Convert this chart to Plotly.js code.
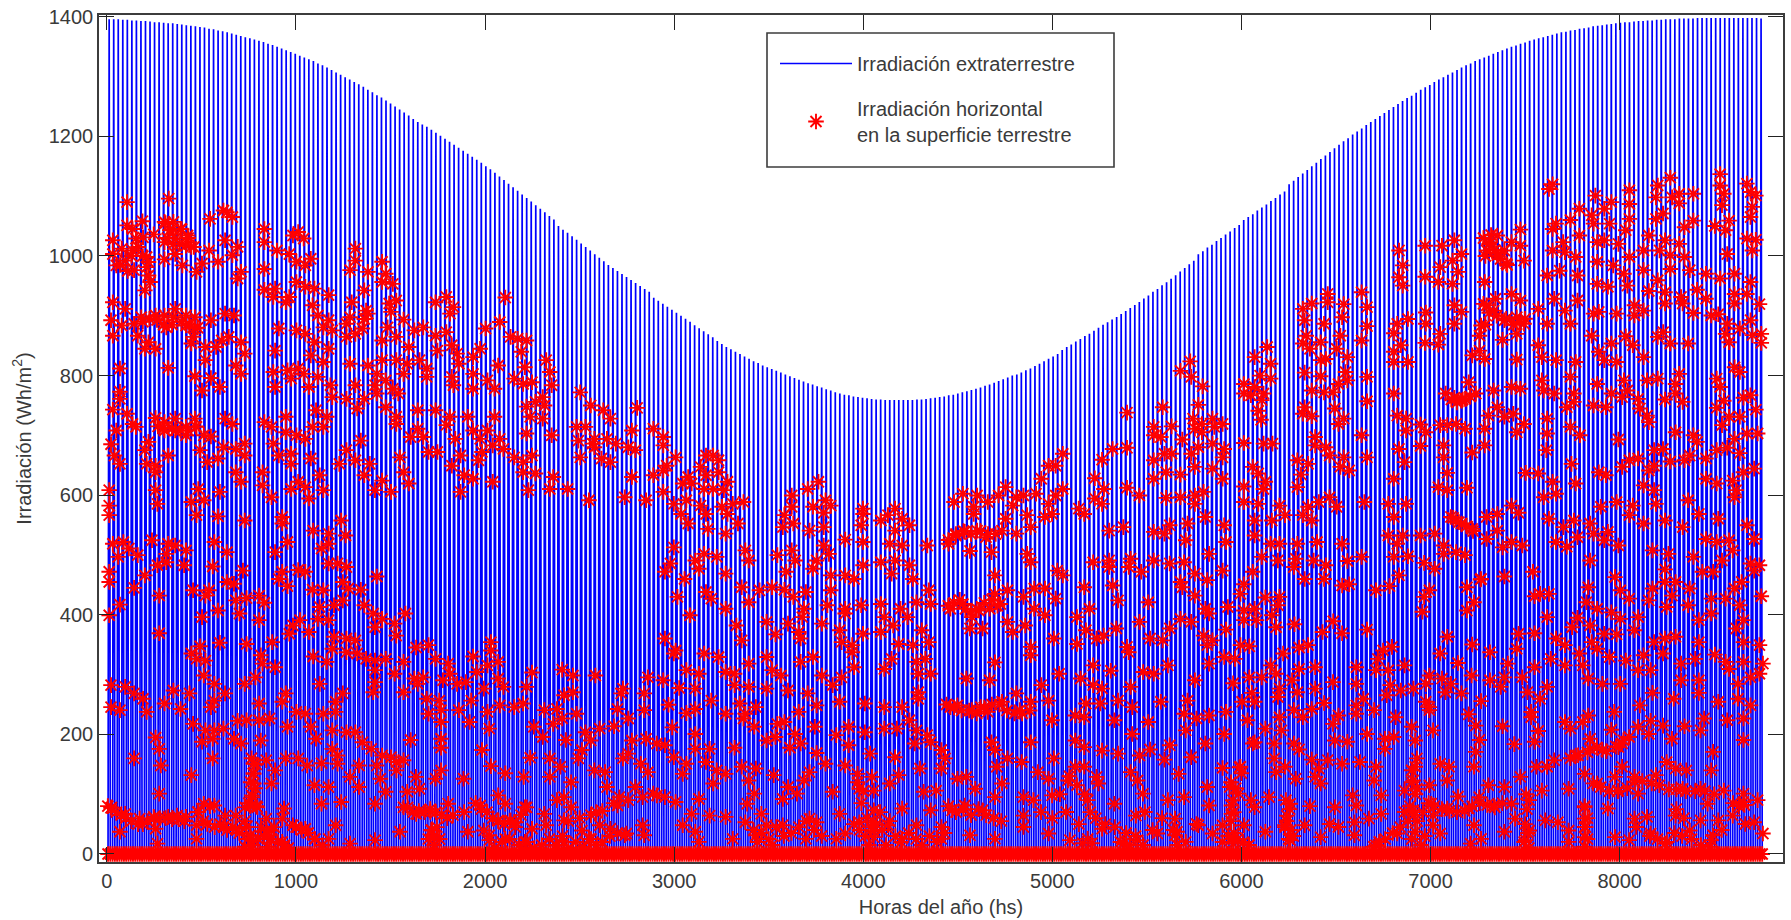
<!DOCTYPE html>
<html><head><meta charset="utf-8">
<script src="https://cdn.plot.ly/plotly-3.0.1.min.js"></script>
<style>html,body{margin:0;padding:0;background:#fff}#c{width:1791px;height:920px}</style></head>
<body><div id="c"></div>
<script>
const dayPeaks=[1396,1396,1396,1395,1395,1394,1394,1393,1393,1392,
1391,1391,1390,1389,1389,1388,1387,1386,1385,1384,
1383,1382,1380,1379,1377,1376,1374,1372,1370,1368,
1366,1364,1362,1360,1358,1355,1353,1350,1347,1344,
1341,1338,1335,1332,1329,1326,1322,1319,1315,1311,
1307,1303,1299,1295,1291,1287,1283,1278,1274,1269,
1265,1260,1255,1250,1245,1240,1235,1229,1224,1220,
1216,1211,1206,1201,1196,1191,1186,1181,1176,1171,
1166,1161,1156,1150,1145,1139,1133,1127,1121,1115,
1109,1103,1097,1091,1085,1079,1073,1067,1061,1050,
1044,1039,1033,1027,1021,1015,1009,1003,997,991,
985,980,975,970,965,960,955,950,945,940,
930,925,920,915,910,905,900,895,890,884,
879,874,869,864,858,853,848,844,840,836,
832,828,824,821,817,814,811,808,805,802,
799,796,793,790,787,785,782,780,777,775,
772,770,768,767,765,764,763,762,761,760,
760,759,759,759,759,759,759,759,760,760,
761,762,763,764,765,767,768,770,772,774,
776,778,780,783,785,788,791,794,797,800,
802,805,809,812,816,820,824,828,832,836,
843,848,852,857,861,866,870,875,880,885,
889,894,898,903,908,913,918,923,929,934,
940,945,951,956,962,968,974,980,986,992,
1003,1008,1014,1019,1025,1030,1036,1041,1047,1052,
1060,1065,1070,1076,1081,1086,1092,1097,1103,1108,
1120,1126,1132,1138,1144,1150,1156,1162,1168,1174,
1180,1186,1192,1197,1203,1208,1213,1219,1224,1229,
1234,1239,1244,1249,1254,1259,1264,1268,1273,1278,
1282,1286,1291,1295,1299,1303,1307,1311,1315,1319,
1322,1326,1329,1332,1335,1338,1341,1344,1347,1350,
1352,1355,1357,1360,1362,1364,1366,1368,1370,1372,
1374,1375,1377,1378,1380,1381,1382,1384,1385,1386,
1387,1388,1389,1390,1391,1391,1392,1393,1393,1394,
1394,1395,1395,1396,1396,1396,1397,1397,1397,1397,
1398,1398,1398,1398,1398,1398,1398,1398,1398,1398,1398,1398,1398,1398,1397];

// Red points, as hour,irradiation pairs, region by region.
const redEarlyHigh=[97,1090,303,1096,590,1073,617,1065,573,1076,507,1062,173,1058,97,1051,124,1045,326,1057,282,1057,361,1045,308,1043,396,1034,335,1029,388,1017,414,1015,282,1023,176,1031,141,1029,229,1036,27,1026,27,1003,71,1012,124,1009,194,998,44,984,132,976,194,981,88,992,282,994,335,1003,370,984,440,973,467,987,546,990,502,1009,581,1026,643,1015,617,1001,660,973,643,962,203,967,211,956,185,942,775,1045,775,1023,775,978,942,1040,916,1034,969,1029,837,1009,898,1003,933,990,977,984,1004,995,1224,1012,1224,992,1198,976,1286,973,1356,990,1374,970,1356,956,1409,953,1268,942,775,943,828,945,819,931,898,931,881,922,933,956,977,948,1022,945,1092,934,1013,917,1206,922,1391,920,1426,925,1400,906,1277,908,1268,894,1198,897,1620,922,1673,931,1708,914,1691,903,1964,930,27,922,88,911,18,892,132,886,71,883,167,897,238,900,282,900,335,911,326,897,388,900,432,897,291,880,388,883,432,878,511,892,581,903,625,900,27,866,150,866,203,855,185,844,238,844,423,864,414,853,484,847,564,858,599,864,660,855,537,847,678,836,484,825,846,878,933,875,977,869,1022,855,1039,900,1092,892,1110,875,1066,880,1180,886,1180,864,1259,878,1224,869,1286,903,1383,880,1462,893,1426,864,1356,858,1515,875,1559,880,1488,847,1620,866,1673,872,1700,850,1629,841,1726,836,1735,819,1840,844,1805,830,1867,878,1937,889,1990,864,2025,861,2069,858,2043,839,828,841,1004,833,1092,844,1066,822,62,811,300,812,634,816,660,802,432,798,511,795,819,805,889,808,942,811,969,802,1039,797,907,794,828,780,995,780,1101,783,1198,819,1286,816,1356,825,1426,825,1480,819,1541,825,1576,811,1462,802,1576,797,1330,802,1374,791,1224,783,1321,783,1409,777,1436,769,1700,797,1708,783,1805,802,1805,777,1929,816,2061,813,2166,825,2184,805,1876,791,1911,777,2008,794,2052,785,2096,788,2193,783,467,774,555,780,62,772,62,760,2334,771,2386,749,2448,741,2483,727,2149,763,2113,755,2069,747,2158,749,2087,730,2149,727,2615,745,27,742,97,735,141,713,124,718,44,707,238,728,282,721,335,727,432,727,282,707,335,707,388,713,440,713,388,699,476,699,511,697,581,727,617,718,775,721,810,713,881,730,881,704,933,699,977,693,1013,713,1030,741,1083,730,1066,713,1110,763,1180,760,1268,760,1233,744,1330,769,1374,746,1426,730,1426,718,1532,741,1620,741,1532,710,1497,696,1559,696,1673,716,1691,730,1779,730,1911,730,1717,693,1805,707,1840,693,1876,707,1937,693,1902,682,2069,702,2193,699,2316,713,2360,713,2325,690,2404,693,2466,693,2404,679,2589,707,2695,710,2510,685,2571,679,18,684,203,688,185,674,35,665,62,651,300,665,194,651,238,648,238,637,458,674,493,654,546,660,573,679,634,676,678,685,678,665,634,637,660,621,819,685,846,665,907,668,907,651,1004,660,1251,690,1180,674,1145,651,1224,657,1295,651,1268,632,766,637,766,615,942,621,907,609,977,612,1048,632,1066,607,810,595,995,593,1444,662,1585,671,1629,671,1743,665,1700,648,1832,657,1849,671,1462,637,1488,618,1356,623,1400,604,1321,607,1761,632,1805,626,1743,604,1902,621,1955,676,2008,662,2052,654,2096,665,2052,637,2113,635,2201,629,2078,607,2184,609,2272,609,2334,662,2439,660,2483,654,2395,685,2606,674,2589,629,2695,632,2554,595,2659,590,2377,590,9,607,9,581,238,607,247,584,449,609,555,604,414,587,476,590];

const redEarlyLow=[9,565,79,520,27,517,106,509,53,495,150,498,220,523,185,464,247,481,291,486,300,517,335,514,388,506,291,500,379,481,9,470,9,453,132,443,256,430,62,415,9,397,440,565,546,563,678,556,528,520,590,503,520,479,669,472,590,453,625,450,423,439,484,430,502,439,634,422,687,426,749,430,775,418,546,405,467,394,652,400,749,389,863,562,863,551,889,520,828,503,1016,539,1092,534,1092,517,1057,509,1176,531,1154,556,1092,484,1136,484,1180,478,863,470,846,458,942,473,977,470,889,446,1013,440,1066,439,1162,453,1189,442,1251,440,1330,462,1048,411,1119,414,1162,422,1039,391,1092,389,951,389,916,380,898,366,995,369,1268,414,1312,400,1356,391,1321,377,1418,383,1471,400,1426,363,256,367,555,351,687,349,814,352,458,345,414,333,484,321,440,324,757,330,766,316,828,310,476,296,528,282,1119,361,1180,358,1224,355,1110,341,1180,335,1233,333,1016,328,1083,319,1277,324,1321,321,1374,324,1462,319,1321,305,1418,299,1524,343,1585,347,1620,324,1682,316,1805,328,1893,352,1893,338,1876,313,1929,319,1823,302,1691,299,2096,301,2245,306,2298,296,2409,296,1048,282,1321,285,1312,268,1515,291,1559,293,1462,268,1532,282,1656,288,1726,282,1770,285,1858,274,1929,291,1955,277,2069,277,2298,268,2545,274,2536,266,2668,293,18,280,88,277,132,266,176,257,326,271,405,266,282,249,361,240,194,235,18,243,62,238,581,266,528,254,511,243,678,282,731,293,749,249,881,266,863,252,933,235,977,232,1162,266,1127,252,1127,235,1066,232,1576,257,1638,254,1647,238,1585,232,1647,218,1735,238,1796,254,1788,218,1876,235,1885,207,1937,246,2008,243,2052,249,2157,238,2219,240,2254,263,2316,232,2245,224,2105,210,2149,193,2201,215,2518,240,2650,266,2650,238,2571,224,2430,207,2360,201,2501,211,423,215,484,204,573,207,528,204,643,220,687,221,749,221,801,224,889,210,1004,210,1030,190,467,185,520,190,625,190,660,182,238,192,256,173,757,187,1110,204,1180,201,1224,201,1259,184,1303,173,1356,162,1400,159,1497,188,1647,190,1647,175,1110,173,1136,162,1136,148,1849,171,2087,158,2263,188,2386,187,2342,171,2589,187,2659,190,2712,182,2545,157,2571,165,2633,148,2668,134,132,157,520,157,264,145,414,129,256,98,722,148,722,131,722,115,713,95,784,154,828,137,810,115,881,157,942,157,986,145,1057,149,1242,145,1330,145,1427,151,1462,154,1427,137,1198,126,1347,123,1523,126,1647,137,1620,123,1022,112,1092,109,1242,109,1758,123,1893,144,1964,132,2055,126,2184,157,2236,143,2184,126,2289,117,2325,157,2404,137,2457,134,2466,109,2606,109,2712,95,18,74,88,64,159,56,300,59,388,59,229,59,344,61,476,81,449,67,528,78,581,61,634,61,705,77,740,75,872,73,863,56,1057,81,1154,84,1321,81,1374,101,1480,101,1541,106,1462,75,1524,64,1594,67,1682,81,1761,67,1841,78,1929,95,1964,81,2061,75,1990,53,2219,87,2254,92,2289,75,2157,64,2413,67,2518,78,2571,87,2642,92,2695,98,62,34,238,39,440,45,493,47,573,42,634,39,687,42,784,56,810,36,916,45,977,39,1127,45,1444,34,1603,36,1612,22,1779,34,1858,36,1929,53,2016,50,2096,39,2166,45,2254,53,2342,36,2430,45,2483,39,2562,31,2642,45,247,14,440,22,705,28,722,20,784,36,810,22,863,17,1022,22,1092,22,1198,14,1321,20,1885,28,1885,20,1964,22,2061,17,2254,17,2219,11,2377,22,2554,28,2650,28];

const redMidHigh=[2941,696,2941,682,3002,662,2958,648,2941,640,3152,665,3187,665,3214,657,3125,646,3152,632,3214,637,3064,629,3037,618,3081,618,3258,621,3143,609,3187,609,3240,607,2941,604,2993,584,3055,590,3125,581,3337,587,3284,584,3231,579,3707,621,3654,609,3575,598,3742,590,3575,579,3680,579,3768,581,3927,576,4085,576,5542,823,5494,807,5547,797,5603,781,5582,750,5406,746,5230,737,5556,727,5652,727,5362,713,5450,714,5565,710,5600,718,5661,713,5362,699,5397,696,5600,704,5503,692,5159,676,5230,678,5652,685,5582,679,4913,668,5415,668,5450,668,5547,668,5362,657,5107,658,5565,646,5652,643,4878,648,4843,648,5423,637,5494,633,5362,626,5071,627,4807,626,5230,611,5291,598,5116,609,4913,609,4878,598,4781,601,4631,612,4684,595,5423,594,5494,595,5565,598,5608,604,5565,584,5071,593,5107,584,4420,601,4376,587,4490,598,4543,587,4843,584,4719,598,4596,598,4992,576,4473,579,4666,581];

const redMidLow=[3029,567,3152,567,3258,567,3539,565,3733,569,3927,567,4050,565,4120,559,4156,548,4085,539,3064,551,3161,542,3310,551,3249,534,3531,545,3583,551,3663,539,3733,545,3918,548,4015,556,4385,531,4429,537,4349,517,4490,539,4534,528,4613,539,4684,534,4755,545,4631,559,4737,565,4825,562,4860,567,4473,567,5019,567,5142,539,5212,545,5362,537,5441,548,5529,551,5617,562,5520,523,5415,534,2993,511,3099,489,3143,500,3117,475,2949,470,2976,484,3046,458,3249,467,3205,495,3346,506,3363,489,3504,498,3575,506,3592,489,3548,470,3680,475,3698,489,3733,514,3759,500,3839,524,3927,520,3927,481,4015,486,3839,464,3768,464,3883,458,4068,467,4059,517,4120,514,4244,514,4085,489,4156,481,4173,458,4455,505,4561,503,4737,500,4755,486,4578,464,4886,472,4913,464,5063,486,5142,489,5142,478,5248,492,5239,478,5300,470,5362,489,5441,484,5512,486,5565,467,5626,456,5494,453,5635,500,3011,428,3178,425,3152,436,3328,444,3249,408,3363,419,3416,439,3478,444,3539,440,3645,436,3583,428,3636,408,3751,414,3768,439,3839,408,3918,414,4015,416,4112,408,4191,419,4252,439,4261,416,4147,394,4358,408,4420,416,4499,405,4552,408,4605,416,4578,433,4640,439,4719,428,4772,442,4825,442,4878,425,4772,408,5019,444,5159,447,5045,408,5186,422,5335,419,5503,444,5565,430,5617,408,5635,400,3073,397,3302,380,3451,386,3557,383,3610,369,3724,383,3812,372,3627,394,3839,400,4032,394,4015,369,4076,380,3495,365,3328,355,2949,358,3002,338,3619,358,3927,366,3874,347,3821,352,4103,349,4217,372,4173,347,4252,352,4464,394,4455,375,4517,375,4640,386,4728,380,4666,369,4825,397,4983,394,5027,372,5115,363,5177,375,5292,386,5441,375,5494,391,5547,386,4869,358,5080,358,5344,358,5406,355,5608,363,5652,355,4983,349,5230,344,5626,347,4755,344,4755,330,3874,335,3143,333,3214,327,2993,333,3451,327,3680,327,3619,319,4068,324,4191,319,4235,324,4578,318,5239,335,5063,313,5432,313,5635,316,3055,305,3117,299,3249,302,3293,299,3363,316,3478,305,3522,296,3724,296,3821,293,3883,310,4032,307,4261,299,4200,299,4437,291,4552,288,4895,299,5150,304,5310,302,5362,299,5565,288,2941,288,3020,275,3099,274,3293,280,3363,277,3451,274,3557,271,3654,266,3777,280,4200,268,4807,280,5001,291,5063,280,5107,274,5248,277,4684,266,2967,247,3099,240,3178,254,3055,233,3249,232,3319,249,3398,243,3346,232,3610,235,3698,246,3812,252,3936,249,4032,243,4120,243,4200,257,4393,246,4358,243,4508,243,4613,252,4543,235,4464,238,4701,238,4755,252,4843,254,5027,249,5098,249,5186,254,5256,243,5397,252,5529,254,2985,209,3099,198,3337,224,3390,210,3504,215,3539,218,3592,198,3495,193,3451,187,3689,210,3795,196,3856,210,3936,201,4032,207,4094,207,4156,221,4191,204,4244,196,4860,221,4755,184,4975,229,5019,226,5168,221,5256,198,5335,218,5512,232,5573,224,5635,229,5520,204,4561,184,4975,187,2949,179,3099,173,3170,173,3293,175,3566,175,3619,182,3698,166,3856,179,3962,165,4085,159,4182,182,4314,171,4332,157,4261,184,4578,171,4640,157,4710,151,4869,157,5019,176,5107,170,5186,165,5292,162,5344,172,5441,179,5415,155,5547,159,5617,182,2993,159,3055,148,3037,131,3152,151,3205,137,3249,131,3328,143,3398,140,3486,129,3663,134,3742,148,3839,145,3971,126,4103,129,4208,140,4314,140,4587,143,4790,134,4975,143,5019,143,5080,126,5248,134,5485,131,3187,115,3363,120,3557,109,3636,120,3900,131,4059,115,4393,123,4437,126,4481,106,4613,115,4843,123,4939,120,5089,115,5282,120,5626,109,5309,98,2949,92,3002,84,3117,89,3390,98,3355,81,3601,98,3531,89,3777,101,3909,106,3980,103,4226,101,4288,103,4578,92,4719,92,4860,95,5036,87,5168,81,5512,92,5635,78,5432,87,3081,64,3170,61,3249,59,3425,64,3663,56,3812,64,4120,73,4261,70,4367,70,4429,78,4517,70,4719,61,4930,67,5274,61,5318,67,5467,56,5573,47,3037,45,3099,34,3346,50,3451,45,3531,45,3698,50,3909,50,4050,45,4191,45,4314,42,4719,42,4843,31,5107,39,5212,14,5477,34,5582,45,5652,31,3117,17,3284,22,3398,28,3645,22,3795,22,3839,31,3980,25,4120,22,4314,22,4455,28,4578,22,4948,20,5036,22,5282,20,5380,31,5467,28,5520,17,3980,70,3980,50,3980,35];

const redLateHigh=[5899,718,6004,686,5907,676,5899,662,5899,626,6048,646,6075,635,6101,685,6145,685,6110,621,6101,609,6004,613,6004,587,6075,584,6180,581,6119,847,6057,830,6136,819,6084,799,6004,785,6136,794,6057,780,6004,769,6101,769,6039,766,6092,758,6075,740,6089,725,6418,936,6418,922,6339,920,6295,911,6497,919,6304,892,6400,886,6489,897,6312,866,6480,866,6295,853,6383,855,6330,844,6462,844,6409,827,6383,825,6515,830,6304,804,6383,798,6506,805,6471,785,6515,791,6339,774,6400,771,6445,771,6304,746,6295,735,6339,731,6453,744,6497,727,6471,718,6356,696,6356,682,6409,679,6427,665,6497,662,6268,657,6321,651,6480,646,6524,640,6286,633,6268,612,6374,587,6427,595,6321,579,6462,579,6585,939,6612,914,6612,882,6585,858,6612,797,6612,756,6585,699,6612,662,6744,626,6599,587,6717,584,6805,584,6770,1009,6788,984,6770,964,6788,950,6899,1017,6899,965,6982,1017,7043,1026,7078,1003,6973,981,7034,992,7061,973,6964,956,7034,953,6902,905,6902,886,6814,894,6761,886,6744,870,6899,854,6973,869,6964,851,6779,850,6744,839,6744,822,6814,822,7043,917,7078,906,7043,886,6744,769,6761,732,6805,727,6876,717,6902,704,6805,707,6876,681,6770,676,6797,654,6990,682,6990,662,7008,636,6964,612,7008,607,7105,611,7008,716,7052,718,7096,710,6973,716,7193,710,7193,682,7131,670,7043,762,7096,760,7114,788,7078,757,7149,769,7237,774,7325,780,7369,777,7255,746,7211,732,7290,730,7334,735,7387,718,7351,704,7219,1023,7255,1034,7202,1009,7255,1001,7299,987,7325,1023,7369,1017,7369,1044,7387,992,7290,1009,7193,956,7246,928,7325,936,7369,925,7202,917,7237,908,7175,883,7290,892,7351,897,7387,886,7167,866,7351,869,7281,859,7167,841,7131,833,7193,827,7351,826,7457,911,7501,886,7616,886,7536,928,7589,908,7651,925,7501,967,7563,975,7651,967,7457,850,7475,830,7545,825,7642,822,7616,797,7475,791,7484,774,7536,769,7633,769,7633,755,7598,746,7616,713,7501,727,7501,702,7663,699,7497,674,7621,651,7395,636,7457,635,7528,621,7642,618,7545,601,7484,595,7756,637,7791,632,7766,579,7844,587,7924,581,7325,581,7528,1120,7510,1112,7545,1054,7616,1060,7528,1045,7580,1023,7528,1009,7589,1006,7642,998,7660,1079,7660,1034,7721,1068,7739,1101,7783,1079,7818,1090,7809,1054,7730,1054,7907,1110,7907,1087,7907,1062,7889,1043,7748,1023,7783,1026,7853,1020,7907,998,7748,990,7827,984,7880,970,7977,976,7748,953,7801,948,7897,950,8003,1034,7977,1009,8047,1118,8109,1131,8038,1098,8118,1098,8153,1104,8223,1104,8153,1088,8073,1071,8038,1062,8179,1048,8223,1059,8083,1026,8056,1009,8153,1020,8109,1001,8179,998,8109,978,8205,976,8047,959,8285,970,8355,962,8426,970,8505,956,8241,943,8003,941,8083,939,8162,931,8285,928,8083,920,8170,920,8223,904,8426,936,8487,936,8426,920,8549,919,8355,1137,8355,1118,8373,1104,8364,1085,8487,1121,8505,1107,8531,1101,8514,1082,8505,1065,8399,1059,8329,1050,8382,1043,8531,1027,8487,1029,8390,1003,8514,1009,7756,906,7844,903,7932,917,7977,908,7932,900,7730,903,7721,866,7818,853,7889,865,7924,850,7977,830,7756,839,7783,825,7844,822,8074,872,8047,864,8109,853,8197,853,8346,902,8311,900,8390,886,8382,869,8399,855,8452,878,8505,892,8558,869,8514,867,8558,854,7748,785,7880,791,7897,774,7994,791,8047,794,8153,802,8135,785,8338,794,8355,780,8426,813,8452,805,7730,749,7791,746,7818,769,7871,763,7950,760,7959,744,8083,759,8135,769,8170,755,8373,757,8338,745,8470,762,8505,766,8531,742,7994,732,8003,721,8399,730,8452,730,8364,716,8135,704,8223,699,8241,688,8426,693,8487,702,8540,702,7853,692,8029,674,8073,676,8109,655,8205,665,8179,657,8285,660,8338,674,8390,678,8452,669,7950,660,7907,657,7871,646,8003,640,8029,648,8285,626,8338,618,8417,623,8470,637,8523,643,8434,607,7977,615,8029,607,8426,595,8038,584,8197,590];

const redLateLow=[5907,548,6057,556,6142,556,6057,531,6207,565,6295,565,6339,556,6744,562,5916,520,6136,517,6180,517,6268,517,6365,520,6489,517,6092,495,6172,489,6260,492,6348,489,6409,481,6515,488,6585,495,5899,472,6048,470,6251,478,6304,458,6400,458,6489,447,6524,449,6717,531,6788,531,6761,517,6876,531,6946,534,6744,495,6814,496,6990,514,7052,503,7096,498,6990,500,6894,485,6946,475,6770,464,7202,562,7026,562,7078,551,7131,542,7255,539,7202,525,7325,520,7378,514,7281,511,7360,569,7255,567,7175,458,7290,462,7431,470,7510,559,7633,556,7713,551,7801,537,7581,545,7545,520,7598,512,7651,528,7730,534,7853,514,7783,523,7713,489,7836,461,7907,565,7977,551,8083,556,8170,545,8250,567,8346,559,8487,548,8285,525,8338,520,8399,523,8523,525,8417,506,8021,506,8100,500,8223,495,8364,489,8505,484,8549,481,8523,472,8083,474,8267,470,8320,470,5987,433,6004,449,5925,411,6110,427,6180,428,6172,414,6004,405,6057,408,6004,389,6142,397,6066,389,6163,377,6254,382,5916,373,6445,387,6392,369,6489,367,6612,373,6656,439,6723,446,6894,428,6920,439,6885,403,7105,444,7172,457,7140,419,7105,405,7466,433,7439,429,7510,433,7501,394,7651,393,7624,377,7704,444,7695,419,7748,408,7818,402,7862,391,7862,439,7906,425,7950,394,7713,380,7932,372,8003,422,8021,442,8083,453,8135,453,8205,442,8117,430,8091,411,8197,414,8250,389,8311,425,8382,425,8452,414,8311,400,8434,375,8470,389,8558,429,8426,442,8461,453,5987,347,6031,345,5907,327,5960,324,6198,333,6277,343,6321,347,6136,313,6356,310,6277,307,6559,310,6665,324,6735,344,6691,338,7008,361,6973,333,6797,313,6717,305,6656,305,7061,317,7131,348,7219,335,7351,341,7307,316,7439,310,7360,366,7439,367,7545,358,7589,347,7519,324,7589,313,7660,333,7721,352,7748,341,7677,313,7783,366,7844,365,7809,327,7889,321,7977,330,7950,305,8012,305,8029,352,8082,358,8135,361,8073,333,8162,316,8232,324,8250,352,8329,331,8382,319,8470,352,8549,347,8470,319,8399,307,8549,299,8505,293,8566,316,5951,283,6031,293,6092,293,6163,299,6242,288,6444,285,6559,282,6180,274,6268,268,6356,274,6043,267,5995,252,6057,252,6172,260,6400,250,6594,257,6559,246,6709,263,6726,280,6779,271,6841,274,6920,296,6902,282,6982,291,7026,282,6999,268,7078,266,7128,296,7219,288,7290,293,7378,293,7272,277,7501,277,7404,268,7466,257,7175,253,7704,291,7774,282,7862,282,8021,267,8162,288,8250,288,8250,267,8443,282,8126,257,7959,246,8346,252,8443,257,8505,246,6902,252,6920,243,5916,235,6022,221,6110,207,6180,226,6251,238,6295,226,6339,240,6471,229,6559,232,6647,238,6444,215,6189,204,5907,198,6057,184,6453,187,6515,185,6612,198,6700,190,6744,193,6753,226,6832,210,6850,187,6938,204,6920,238,7114,231,7149,212,7167,188,7281,211,7339,181,7422,235,7422,226,7457,203,7439,185,7589,218,7616,207,7704,229,7677,218,7818,205,7832,235,7950,210,8012,220,8073,212,8003,198,8179,211,8258,204,8276,224,8390,221,8470,224,8117,190,8470,188,7713,190,7906,193,7871,182,6048,182,6154,182,6277,172,6154,157,6251,182,6700,173,6858,157,6850,143,7149,168,7140,143,6973,148,7017,143,6339,155,6418,154,6489,148,6577,151,6656,143,5987,143,5899,141,6374,140,6163,134,6207,143,7448,143,7501,143,7536,154,7642,162,7713,173,7774,171,7853,176,8320,168,8311,137,7686,131,7871,143,8091,151,8135,140,7836,126,7932,126,8038,129,8188,137,5934,109,5978,98,6039,87,6128,92,6260,123,6356,126,6383,115,6647,120,6841,120,6920,112,7008,120,6797,103,6858,106,7061,93,7166,92,7211,112,7290,109,7369,126,7475,103,7607,106,7748,115,7853,103,7950,98,8170,106,8258,106,8373,103,8470,98,8540,87,6541,95,6682,95,5943,78,6057,75,6233,81,6330,77,6453,75,6559,78,6929,81,7008,73,7114,73,7237,78,7325,81,7413,87,7686,75,7801,73,8293,81,8470,84,6797,67,6841,70,5943,64,6216,61,6682,64,6938,61,7686,56,7932,56,7994,59,8135,61,8258,53,8417,61,8523,50,6004,45,6207,45,6304,45,6427,47,6471,42,6550,50,6621,56,6938,45,7140,45,7343,56,7492,53,7554,50,7686,42,7941,42,8346,53,8479,47,5899,45,6110,34,6383,25,6550,28,6761,31,6850,34,6973,31,7290,34,7413,36,7607,36,7686,25,7836,25,8012,31,8205,36,8320,28,8566,31,5951,22,5951,14,6233,20,6673,17,6656,11,7175,22,7123,14,7395,20,7906,20,8083,14,8311,20,7607,17];

// Extra readings of the crowded clusters, already in true hours.
const redClusters=[765,160,790,150,775,135,760,120,785,110,770,95,750,85,790,80,730,78,5,80,25,78,50,70,75,65,100,60,130,55,165,50,190,50,215,55,250,60,280,60,310,60,345,58,380,58,410,55,480,70,510,55,545,80,570,45,600,50,635,40,665,45,700,35,730,55,745,25,770,15,800,25,830,30,860,25,885,45,905,20,940,15,960,10,815,45,850,12,730,12,1000,45,1030,40,1065,35,1100,25,1140,15,1715,40,1730,30,1745,45,1760,25,1730,15,1700,25,1590,78,1620,70,1650,72,1680,70,1710,75,1740,70,1770,65,1800,60,1830,65,1950,85,1980,75,2010,70,2040,60,2070,55,2100,50,2130,55,2160,45,2190,65,2220,78,2340,25,2375,15,2410,30,2440,10,2480,20,2520,12,2560,25,2590,15,2620,20,2660,30,2700,35,2440,55,2500,60,2560,65,2620,72,2680,85,2710,95,2050,10,2090,20,2130,25,2180,15,2220,20,2260,10,2300,15,310,1055,350,1045,395,1045,430,1030,460,1015,385,1020,350,1020,320,1030,70,985,110,975,190,1000,220,990,130,1000,165,1015,190,890,225,895,265,893,300,885,345,885,395,890,435,885,480,880,270,715,300,712,345,712,390,708,430,708,470,715,4450,415,4480,420,4510,425,4540,410,4570,405,4600,410,4640,420,4680,425,4710,415,4440,250,4480,245,4520,240,4560,240,4600,235,4640,245,4680,250,4720,250,4760,240,4800,235,4840,235,4880,240,4450,525,4490,535,4530,540,4570,535,4620,540,4660,535,4700,535,3950,50,3980,40,4010,30,4040,45,4070,50,4100,40,4140,55,4170,30,4200,20,4240,35,4280,25,4310,15,4350,30,4390,20,4430,35,4020,60,4090,70,4030,15,4120,15,3990,85,4000,105,3970,120,3420,40,3460,35,3500,25,3540,45,3580,30,3620,35,3660,45,3700,55,3740,40,3780,30,3440,20,3520,15,4450,80,4490,70,4530,75,4570,65,4610,75,4650,65,4690,60,4730,55,4900,90,4940,70,5000,60,5040,100,5090,130,5130,115,5170,100,5200,70,5140,50,5230,60,5280,50,5330,45,5390,35,5440,30,5480,15,5530,40,5580,60,5640,40,5660,15,5360,20,5410,15,5210,18,5160,18,5900,20,5930,30,5960,35,5980,25,6010,20,6040,15,5945,120,5970,110,5955,90,5960,70,5945,55,6235,90,6255,75,6240,55,6260,40,6250,25,6230,45,6275,30,6700,12,6730,20,6760,25,6800,35,6840,45,6880,55,6910,65,6960,70,6990,85,7020,80,7060,75,7100,72,7140,70,7180,72,7220,80,7260,85,7300,82,7340,78,7380,85,6900,140,6900,120,6920,100,6890,80,6930,55,6970,30,6950,15,6900,25,7505,100,7510,75,7500,50,7515,35,7495,20,7520,10,7815,80,7830,60,7820,45,7830,25,7815,12,7860,118,7900,112,7945,105,7990,105,8040,110,8080,120,8120,122,8170,118,8210,115,8260,108,8300,108,8350,105,8400,105,8450,105,8500,100,8160,30,8200,25,8250,20,8290,35,8330,30,8380,25,8430,15,8480,12,8540,40,8340,60,8300,75,8600,85,8630,80,8660,82,7740,160,7780,165,7830,170,7880,178,7930,172,7980,180,8020,190,7120,562,7150,555,7190,548,7225,540,5990,145,6000,135,7280,1030,7310,1020,7340,1010,7370,995,7290,1000,7320,1035,7350,1005,7405,985,7280,920,7310,905,7350,900,7400,895,7440,885,7470,890,7500,895,7290,885,7110,760,7140,755,7170,760,7210,765,7080,770];

const xTicks=[0,1000,2000,3000,4000,5000,6000,7000,8000];
const yTicks=[0,200,400,600,800,1000,1200,1400];
const nightValue=0;

// Hour readings from the zoomed crops were made on a width-compressed view: each block is
// corrected around the left edge of its crop, and the irradiation is corrected to the y ticks.
const blocks=[[redEarlyHigh,-35],[redEarlyLow,-35],[redMidHigh,2923],[redMidLow,2923],[redLateHigh,5881],[redLateLow,5881]];
const redX=[],redY=[];
blocks.forEach(([arr,base])=>{
  for(let i=0;i<arr.length;i+=2){
    redX.push(base+(arr[i]-base)*1.0714);
    redY.push(arr[i+1]*0.997+3.3);
  }
});
for(let i=0;i<redClusters.length;i+=2){redX.push(redClusters[i]);redY.push(redClusters[i+1]);}
// each day: sunrise and sunset stay at the night value
const lineX=[],lineY=[];
dayPeaks.forEach((p,d)=>{
  lineX.push(24*d+6,24*d+12,24*d+18);
  lineY.push(nightValue,p,nightValue);
  redX.push(24*d+6,24*d+18);
  redY.push(nightValue,nightValue);
});

const axisCol='#3c3c3c', txt='#3a3a3a', fam='"Liberation Sans",Arial,sans-serif';
const axis=(ticks)=>({tickmode:'array',tickvals:ticks,ticktext:ticks.map(String),ticks:'inside',ticklen:15,tickwidth:1.2,tickcolor:'#222',
  showgrid:false,zeroline:false,showline:true,mirror:'ticks',linecolor:axisCol,linewidth:1.6,tickfont:{family:fam,size:20,color:txt}});

Plotly.newPlot('c',[
 {type:'scatter',mode:'lines',x:lineX,y:lineY,name:'Irradiación extraterrestre',line:{color:'#0000ff',width:1.7},legendgroup:'a',hoverinfo:'skip'},
 {type:'scatter',mode:'markers',x:redX,y:redY,name:'Irradiación horizontal<br>en la superficie terrestre',legendgroup:'b',hoverinfo:'skip',
  marker:{symbol:'asterisk-open',size:13,color:'#ff0000',line:{color:'#ff0000',width:1.9}}}
],{
 width:1791,height:920,margin:{l:99,r:8,t:15,b:58,pad:0},paper_bgcolor:'#fff',plot_bgcolor:'#fff',
 xaxis:Object.assign(axis(xTicks),{range:[-41.8,8864],title:{text:'Horas del año (hs)',font:{family:fam,size:20,color:txt},standoff:9}}),
 yaxis:Object.assign(axis(yTicks),{range:[-13.4,1403],title:{text:'Irradiación (Wh/m<sup>2</sup>)',font:{family:fam,size:20,color:txt},standoff:12}}),
 showlegend:true,
 legend:{xref:'paper',yref:'paper',x:(775-99)/1684,y:1-(44-15)/847,xanchor:'left',yanchor:'top',bgcolor:'rgba(0,0,0,0)',borderwidth:0,
   itemwidth:72,tracegroupgap:16,itemclick:false,itemdoubleclick:false,font:{family:fam,size:20,color:txt}},
 shapes:[{type:'rect',xref:'paper',yref:'paper',x0:(767-99)/1684,x1:(1114-99)/1684,y0:1-(167-15)/847,y1:1-(33-15)/847,
   fillcolor:'#fff',line:{color:axisCol,width:1.6},layer:'above'}]
},{displayModeBar:false});
</script></body></html>
